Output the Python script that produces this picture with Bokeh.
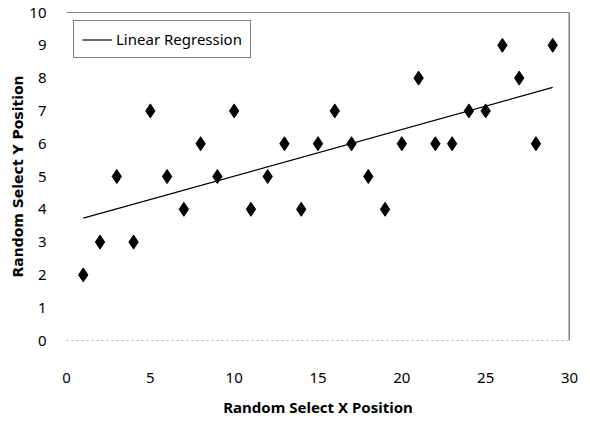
import numpy as np
from bokeh.plotting import figure
from bokeh.models import Span, Legend, LegendItem, FixedTicker, Range1d
from bokeh.embed import file_html
from bokeh.resources import INLINE

# Data
x_vals = [1, 2, 3, 4, 5, 6, 7, 8, 9, 10, 11, 12, 13, 14, 15,
          16, 17, 18, 19, 20, 21, 22, 23, 24, 25, 26, 27, 28, 29]
y_vals = [2, 3, 5, 3, 7, 5, 4, 6, 5, 7, 4, 5, 6, 4, 6,
          7, 6, 5, 4, 6, 8, 6, 6, 7, 7, 9, 8, 6, 9]
x_ticks = [0, 5, 10, 15, 20, 25, 30]
y_ticks = [0, 1, 2, 3, 4, 5, 6, 7, 8, 9, 10]

# Linear regression fit over the data
slope, intercept = np.polyfit(x_vals, y_vals, 1)
reg_x = [min(x_vals), max(x_vals)]
reg_y = [slope * v + intercept for v in reg_x]

FONT = "Noto Sans"

p = figure(width=582, height=419, output_backend="svg", toolbar_location=None,
           x_range=Range1d(0, 30), y_range=Range1d(0, 10),
           min_border_left=66, min_border_right=13, min_border_top=12,
           min_border_bottom=76)
p.outline_line_color = None
p.background_fill_color = "white"
p.border_fill_color = "white"
p.grid.visible = False

p.scatter(x_vals, y_vals, marker="diamond", size=14, color="black")
reg = p.line(reg_x, reg_y, line_color="black", line_width=1.2)

# Top and right borders of plot area
p.add_layout(Span(location=10, dimension="width", line_color="black", line_width=1.2))
p.add_layout(Span(location=30, dimension="height", line_color="black", line_width=1.5))

# X axis
xa = p.xaxis[0]
xa.ticker = FixedTicker(ticks=x_ticks)
xa.axis_label = "Random Select X Position"
xa.axis_label_text_font = FONT
xa.axis_label_text_font_style = "bold"
xa.axis_label_text_font_size = "15px"
xa.axis_label_text_color = "black"
xa.axis_label_standoff = 11
xa.major_label_text_font = FONT
xa.major_label_text_font_size = "15px"
xa.major_label_text_color = "black"
xa.major_label_standoff = 26
xa.major_tick_line_color = None
xa.minor_tick_line_color = None
xa.axis_line_color = "#b0b0b0"
xa.axis_line_dash = "2 3"

# Y axis
ya = p.yaxis[0]
ya.ticker = FixedTicker(ticks=y_ticks)
ya.axis_label = "Random Select Y Position"
ya.axis_label_text_font = "DejaVu Sans"
ya.axis_label_text_font_style = "bold"
ya.axis_label_text_font_size = "14px"
ya.axis_label_text_color = "black"
ya.axis_label_standoff = 0
ya.major_label_text_font = FONT
ya.major_label_text_font_size = "15px"
ya.major_label_text_color = "black"
ya.major_label_standoff = 14
ya.major_tick_line_color = None
ya.minor_tick_line_color = None
ya.axis_line_color = None

legend = Legend(items=[LegendItem(label="Linear Regression", renderers=[reg])],
                location=(7, 282), label_text_font=FONT, label_text_font_size="15px",
                label_text_color="black", glyph_width=30, glyph_height=15,
                label_height=15, label_standoff=4, padding=8, margin=0,
                border_line_color="black", border_line_width=1,
                background_fill_color="white", background_fill_alpha=1)
p.add_layout(legend)

open("out.html", "w").write(file_html(p, INLINE))
